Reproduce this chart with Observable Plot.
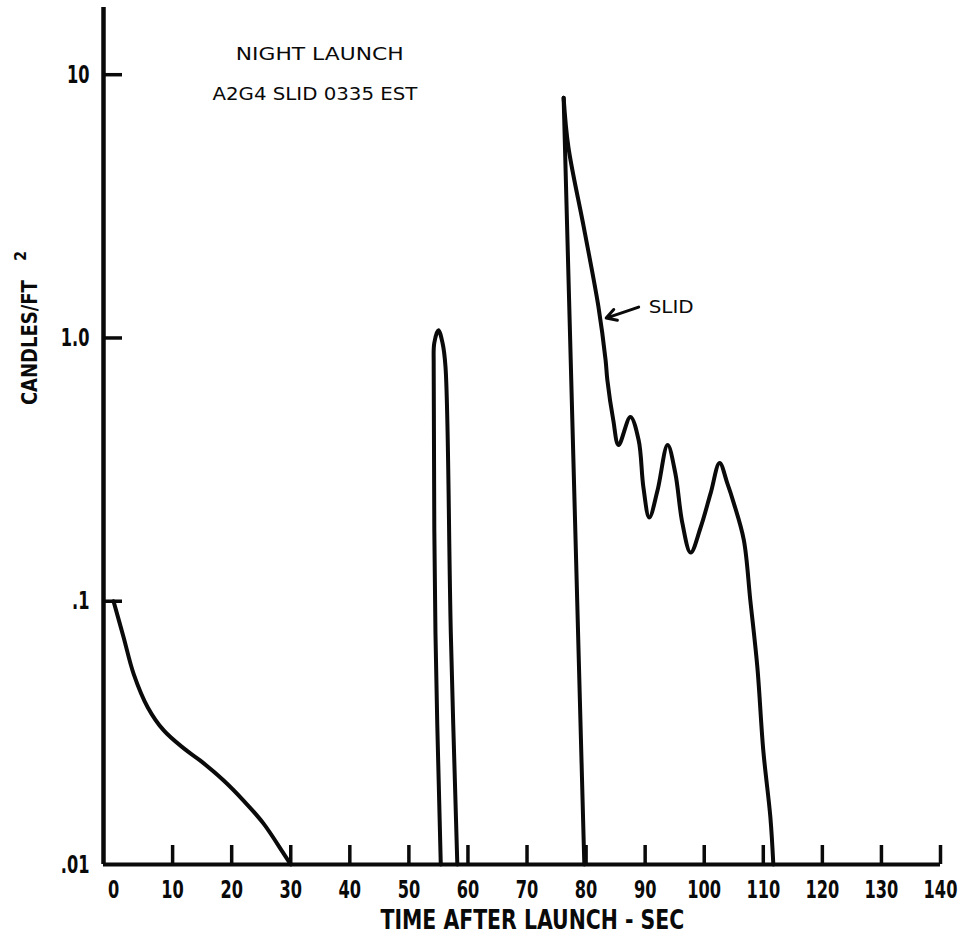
<!DOCTYPE html>
<html>
<head>
<meta charset="utf-8">
<script src="https://cdn.jsdelivr.net/npm/d3@7"></script>
<script src="https://cdn.jsdelivr.net/npm/@observablehq/plot@0.6"></script>
<style>
  html, body { margin: 0; padding: 0; background: #fff; }
  #chart svg { display: block; background: #fff; }
</style>
</head>
<body>
<div id="chart"></div>
<script>
// ---- tick values and labels ----
const xTicks = [0, 10, 20, 30, 40, 50, 60, 70, 80, 90, 100, 110, 120, 130, 140];
const yTicks = [0.01, 0.1, 1, 10];
const yTickLabels = [".01", ".1", "1.0", "10"];
const xDomain = [-1.7, 140];
const yDomain = [0.01, 18];

// ---- early decay (0 - 30 s) ----
const earlyTime    = [0, 1.7, 3.4, 5.8, 8.5, 11.9, 14.7, 18.6, 22.0, 25.4, 28.8, 30.0];
const earlyCandles = [0.1, 0.073, 0.053, 0.0395, 0.0323, 0.0276, 0.0248, 0.0209, 0.0175, 0.0143, 0.011, 0.01];

// ---- pulse near 55 s ----
const pulseTime    = [55.4, 54.5, 54.2, 54.3, 55.0, 55.7, 56.2, 57.1, 58.2];
const pulseCandles = [0.01, 0.0755, 0.776, 0.957, 1.07, 0.957, 0.776, 0.0755, 0.01];

// ---- spike leg near 80 s ----
const spikeTime    = [79.7, 76.2];
const spikeCandles = [0.01, 8.17];

// ---- SLID curve ----
const slidTime    = [76.2, 77.0, 79.6, 82.1, 83.3, 83.6, 84.6, 85.5, 87.5, 88.9, 89.7, 90.7, 92.1, 93.8, 95.1, 96.3, 97.7, 99.4, 101.1, 102.6, 103.9, 105.0, 106.7, 107.8, 109.0, 110.0, 111.2, 111.7];
const slidCandles = [8.17, 5.32, 2.64, 1.31, 0.825, 0.692, 0.488, 0.392, 0.501, 0.409, 0.271, 0.208, 0.264, 0.392, 0.307, 0.198, 0.153, 0.191, 0.258, 0.335, 0.281, 0.236, 0.171, 0.101, 0.056, 0.0271, 0.0151, 0.01];

// ---- annotations ----
const titleLines = ["NIGHT LAUNCH", "A2G4 SLID 0335 EST"];
const titleX = [34.9, 34.1];
const titleY = [11.4, 8.04];
const slidLabel = {text: "SLID", x: 90.6, y: 1.245};
const slidArrow = {x1: 88.9, y1: 1.31, x2: 83.4, y2: 1.19};
const yLabel = {text: "CANDLES/FT", x: -14.1, y: 0.96};
const yLabelSup = {text: "2", x: -15.7, y: 2.05};
const xLabel = {text: "TIME AFTER LAUNCH - SEC", x: 70.9};

const toRows = (xs, ys) => xs.map((x, i) => ({x, y: ys[i]}));

const W = 961, H = 936;
const mL = 103, mR = 21, mT = 7, mB = 72;
const frameH = H - mT - mB, frameW = W - mL - mR;
const ink = "#0a0a0a";
const condensed = "'DejaVu Sans Condensed', 'DejaVu Sans', sans-serif";
const plain = "'DejaVu Sans', 'Noto Sans', sans-serif";

const chart = Plot.plot({
  width: W, height: H,
  marginLeft: mL, marginRight: mR, marginTop: mT, marginBottom: mB,
  x: {domain: xDomain},
  y: {type: "log", domain: yDomain},
  marks: [
    // axis lines
    Plot.ruleY([yDomain[0]], {stroke: ink, strokeWidth: 4}),
    Plot.ruleX([xDomain[0]], {stroke: ink, strokeWidth: 4.5}),
    // inward ticks
    Plot.ruleX(xTicks.slice(1), {x: d => d, insetTop: frameH - 19, stroke: ink, strokeWidth: 3.5}),
    Plot.ruleY(yTicks.slice(1), {y: d => d, insetRight: frameW - 19, stroke: ink, strokeWidth: 3.5}),
    // tick labels
    Plot.axisX({ticks: xTicks, tickSize: 0, tickPadding: 16, label: null,
      tickFormat: d => String(d), fontSize: 25, fontWeight: "bold", fontFamily: condensed, fill: ink}),
    Plot.axisY({ticks: yTicks, tickSize: 0, tickPadding: 14, label: null,
      tickFormat: d => yTickLabels[yTicks.indexOf(d)], fontSize: 25, fontWeight: "bold", fontFamily: condensed, fill: ink}),
    // curves
    Plot.line(toRows(earlyTime, earlyCandles), {x: "x", y: "y", curve: "catmull-rom", stroke: ink, strokeWidth: 4}),
    Plot.line(toRows(pulseTime, pulseCandles), {x: "x", y: "y", curve: "catmull-rom", stroke: ink, strokeWidth: 4}),
    Plot.line(toRows(spikeTime, spikeCandles), {x: "x", y: "y", stroke: ink, strokeWidth: 4}),
    Plot.line(toRows(slidTime, slidCandles), {x: "x", y: "y", curve: "catmull-rom", stroke: ink, strokeWidth: 4}),
    // annotations
    Plot.text(titleLines, {x: (d, i) => titleX[i], y: (d, i) => titleY[i], text: d => d,
      lineAnchor: "bottom", textAnchor: "middle", fontSize: 18, fontFamily: plain, fill: ink}),
    Plot.text([slidLabel], {x: "x", y: "y", text: "text", textAnchor: "start", lineAnchor: "bottom",
      fontSize: 18, fontFamily: plain, fill: ink}),
    Plot.arrow([slidArrow], {x1: "x1", y1: "y1", x2: "x2", y2: "y2", stroke: ink, strokeWidth: 3, headLength: 10}),
    Plot.text([yLabel], {x: "x", y: "y", text: "text", rotate: -90, textAnchor: "middle", lineAnchor: "middle",
      fontSize: 22, fontWeight: "bold", fontFamily: condensed, fill: ink}),
    Plot.text([yLabelSup], {x: "x", y: "y", text: "text", rotate: -90, textAnchor: "middle", lineAnchor: "middle",
      fontSize: 16, fontWeight: "bold", fontFamily: condensed, fill: ink}),
    Plot.text([xLabel], {x: "x", text: "text", frameAnchor: "bottom", dy: 64, textAnchor: "middle", lineAnchor: "bottom",
      fontSize: 27, fontWeight: "bold", fontFamily: condensed, fill: ink})
  ]
});
document.getElementById("chart").appendChild(chart);

// Narrow/widen the lettering (about each text's own anchor) to match the typeset originals
function squeeze(el, factor) {
  const tr = el.getAttribute("transform") || "";
  el.setAttribute("transform", (tr + ` scale(${factor},1)`).trim());
}
chart.querySelectorAll('g[aria-label="x-axis tick label"] text, g[aria-label="y-axis tick label"] text')
  .forEach(t => squeeze(t, 0.72));
const targetWidths = new Map([
  [xLabel.text, 304],
  [yLabel.text, 125],
  [titleLines[0], 168],
  [titleLines[1], 205],
  [slidLabel.text, 45]
]);
chart.querySelectorAll("text").forEach(t => {
  const w = targetWidths.get(t.textContent);
  if (w) squeeze(t, w / t.getComputedTextLength());
});
</script>
</body>
</html>
